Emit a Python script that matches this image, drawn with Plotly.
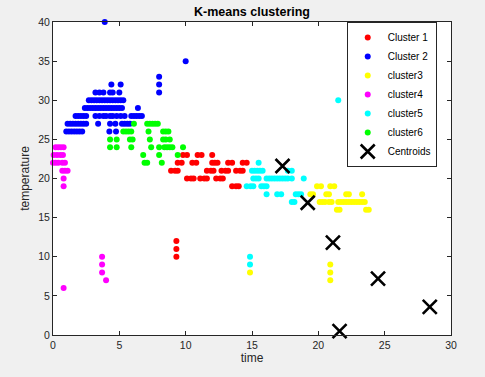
import plotly.graph_objects as go

# ---------------- data ----------------
c1_x = [9.8, 10.1, 10.9, 11.2, 12.0,
        9.4, 9.7, 10.5, 10.8, 12.0, 12.2, 12.4, 13.2, 13.5, 14.3, 14.6,
        8.9, 9.2, 9.4, 11.6, 11.9, 12.1, 12.7, 13.0, 13.2, 13.8, 14.1, 14.3,
        10.1, 10.4, 10.6, 11.1, 11.4, 11.6, 12.3, 12.6, 12.8,
        13.5, 13.8, 14.0,
        9.3, 9.3, 9.3]
c1_y = [23, 23, 23, 23, 23,
        22, 22, 22, 22, 22, 22, 22, 22, 22, 22, 22,
        21, 21, 21, 21, 21, 21, 21, 21, 21, 21, 21, 21,
        20, 20, 20, 20, 20, 20, 20, 20, 20,
        19, 19, 19,
        12, 11, 10]

c2_x = [4.4, 5.1,
        3.2, 3.5, 3.8, 4.3, 4.5, 5.0,
        2.7, 2.9, 3.1, 3.3, 3.5, 3.7, 3.9, 4.1, 4.3, 4.5, 4.7, 4.9, 5.1, 5.3,
        2.4, 2.6, 2.8, 3.0, 3.2, 3.4, 3.6, 3.8, 4.0, 4.2, 4.4, 4.6, 4.8, 5.0, 5.2, 6.4,
        1.7, 1.9, 2.1, 2.3, 2.5, 3.2, 3.5, 3.8, 4.0, 4.3, 4.5, 4.8, 5.1, 5.4, 5.9, 6.1, 6.3, 6.5, 6.7,
        1.1, 1.3, 1.5, 1.7, 1.9, 2.1, 2.3, 2.5, 3.4, 4.3, 4.7, 5.2, 5.4, 5.6, 5.8,
        1.0, 1.2, 1.4, 1.6, 1.8, 2.0, 2.2, 4.25, 4.75,
        3.9, 10.0, 8.0, 8.0, 8.0]
c2_y = [32, 32,
        31, 31, 31, 31, 31, 31,
        30, 30, 30, 30, 30, 30, 30, 30, 30, 30, 30, 30, 30, 30,
        29, 29, 29, 29, 29, 29, 29, 29, 29, 29, 29, 29, 29, 29, 29, 29,
        28, 28, 28, 28, 28, 28, 28, 28, 28, 28, 28, 28, 28, 28, 28, 28, 28, 28, 28,
        27, 27, 27, 27, 27, 27, 27, 27, 27, 27, 27, 27, 27, 27, 27,
        26, 26, 26, 26, 26, 26, 26, 26, 26,
        40, 35, 33, 32, 31]

c3_x = [19.9, 20.2, 20.9, 21.2,
        19.4, 19.6, 20.6, 20.8, 22.1, 22.3, 23.3,
        20.1, 20.3, 20.5, 20.8, 21.0, 21.5, 21.7, 21.9, 22.1, 22.3, 22.5, 22.7, 22.9, 23.1, 23.3, 23.5,
        21.4, 21.6, 23.6, 23.8,
        14.85, 20.9, 20.9, 20.9]
c3_y = [19, 19, 19, 19,
        18, 18, 18, 18, 18, 18, 18,
        17, 17, 17, 17, 17, 17, 17, 17, 17, 17, 17, 17, 17, 17, 17, 17,
        16, 16, 16, 16,
        8, 9, 8, 7]

c4_x = [0.2, 0.4, 0.6, 0.8,
        0.05, 0.3, 0.55, 0.75,
        0.0, 0.2, 0.4, 0.7, 0.9,
        0.7, 0.9, 1.1,
        0.8, 0.8,
        3.7, 3.7, 3.7, 4.0, 0.8]
c4_y = [24, 24, 24, 24,
        23, 23, 23, 23,
        22, 22, 22, 22, 22,
        21, 21, 21,
        20, 19,
        10, 9, 8, 7, 6]

c5_x = [15.5,
        15.0, 15.2, 15.4, 15.6, 15.8, 17.7, 18.0,
        15.1, 15.3, 15.5, 16.1, 16.3, 16.5, 16.7, 16.9, 17.1, 17.3, 17.5, 17.7, 18.0, 18.9,
        14.6, 14.9, 15.1, 15.7, 15.9, 16.1,
        16.1, 16.9, 17.2, 18.3, 18.5, 18.7,
        18.0, 18.2,
        14.85, 14.85, 21.5]
c5_y = [22,
        21, 21, 21, 21, 21, 21, 21,
        20, 20, 20, 20, 20, 20, 20, 20, 20, 20, 20, 20, 20, 20,
        19, 19, 19, 19, 19, 19,
        18, 18, 18, 18, 18, 18,
        17, 17,
        10, 9, 30]

c6_x = [6.1, 7.1, 7.3, 7.5, 7.7, 7.9,
        5.3, 5.5, 5.7, 5.9, 7.2, 8.3, 8.5, 8.7,
        4.3, 4.8, 5.8, 6.0, 7.3, 8.3, 8.5, 8.8,
        4.3, 4.8, 5.9, 7.4, 8.0, 8.4, 8.6, 8.8, 9.0, 9.8,
        6.8, 8.0, 9.4,
        6.9, 7.1, 8.2]
c6_y = [27, 27, 27, 27, 27, 27,
        26, 26, 26, 26, 26, 26, 26, 26,
        25, 25, 25, 25, 25, 25, 25, 25,
        24, 24, 24, 24, 24, 24, 24, 24, 24, 24,
        23, 23, 23,
        22, 22, 22]

cent_x = [17.3, 19.2, 21.1, 24.5, 28.4, 21.6]
cent_y = [21.6, 16.9, 11.8, 7.2, 3.6, 0.5]

names = ["Cluster 1", "Cluster 2", "cluster3", "cluster4", "cluster5", "cluster6"]
colors = ["#ff0000", "#0000ff", "#ffff00", "#ff00ff", "#00ffff", "#00ff00"]

# ---------------- figure ----------------
fig = go.Figure()
series = [(c1_x, c1_y), (c2_x, c2_y), (c3_x, c3_y), (c4_x, c4_y), (c5_x, c5_y), (c6_x, c6_y)]
for (xs, ys), nm, col in zip(series, names, colors):
    fig.add_trace(go.Scatter(x=xs, y=ys, mode="markers", name=nm, cliponaxis=False,
                             marker=dict(color=col, size=6, line=dict(width=0))))

fig.add_trace(go.Scatter(x=cent_x, y=cent_y, mode="markers", name="Centroids", cliponaxis=False,
                         marker=dict(symbol="x-thin", size=14, color="black",
                                     line=dict(width=2.6, color="black"))))

axis_common = dict(showgrid=False, zeroline=False, showline=True, linecolor="#262626",
                   linewidth=1, mirror="ticks", ticks="inside", ticklen=4,
                   tickcolor="#262626", tickfont=dict(family="Liberation Sans, Arial", size=10.5, color="#262626"))

fig.update_layout(
    width=485, height=377,
    margin=dict(l=53, r=34, t=22, b=42),
    paper_bgcolor="#f0f0f0", plot_bgcolor="white",
    title=dict(text="<b>K-means clustering</b>", x=(53 + 451) / 2 / 485, xanchor="center",
               y=1 - 12 / 377, yanchor="middle",
               font=dict(family="Liberation Sans, Arial", size=12.5, color="black")),
    xaxis=dict(range=[0, 30], dtick=5, title=dict(text="time", standoff=4,
               font=dict(family="Liberation Sans, Arial", size=12, color="#262626")), **axis_common),
    yaxis=dict(range=[0, 40], dtick=5, title=dict(text="temperature", standoff=6,
               font=dict(family="Liberation Sans, Arial", size=12, color="#262626")), **axis_common),
    legend=dict(x=0.738, xanchor="left", y=1.0, yanchor="top",
                bgcolor="white", bordercolor="#262626", borderwidth=1,
                font=dict(family="Liberation Sans, Arial", size=10, color="black"),
                tracegroupgap=0, itemsizing="trace"),
    showlegend=True,
)

fig.write_html("out.html", config={"displayModeBar": False},
               post_script="document.body.style.margin='0';document.body.style.background='#f0f0f0';")
